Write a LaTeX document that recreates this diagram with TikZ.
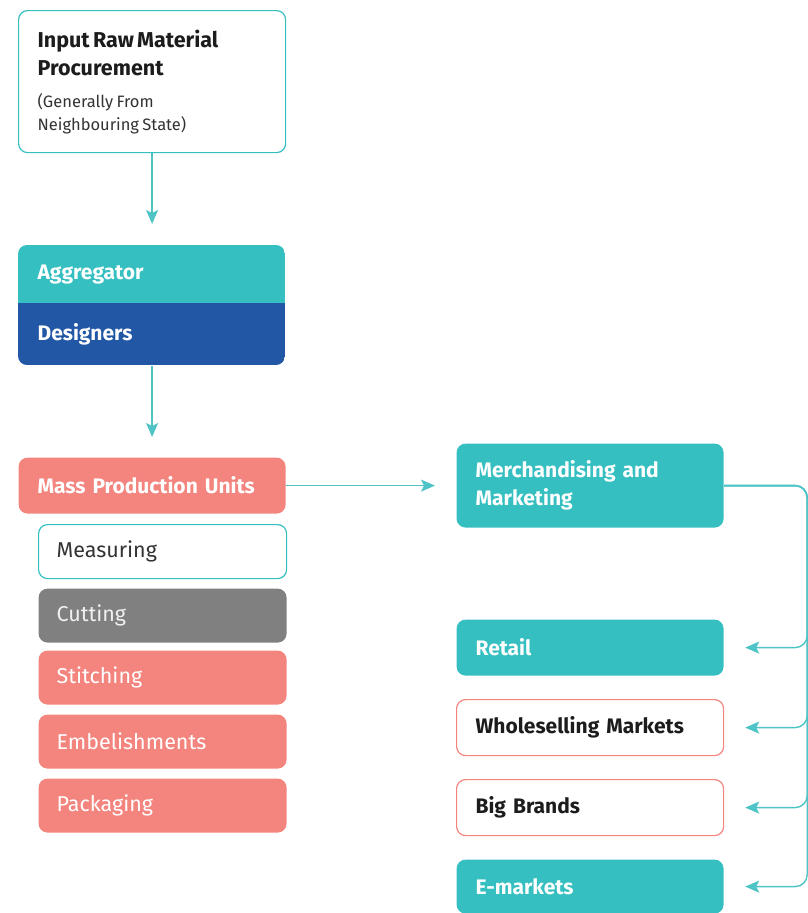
\documentclass[tikz,border=0pt]{standalone}
\usepackage{fontspec}
\setmainfont{Fira Sans}
\usetikzlibrary{arrows.meta}

\definecolor{aggteal}{HTML}{35BFC1}
\definecolor{desblue}{HTML}{2257A5}
\definecolor{salmon}{HTML}{F3847E}
\definecolor{cutgray}{HTML}{808080}
\definecolor{linkteal}{HTML}{4FC4C6}
\definecolor{inkdark}{HTML}{1C1C1C}
\definecolor{inkgray}{HTML}{333333}

\tikzset{
  card/.style={anchor=north west, rounded corners=9pt, minimum width=267pt,
    text width=229pt, inner xsep=19pt, inner ysep=0pt, align=left, line width=1.2pt},
  head/.style={card, font=\bfseries\fontsize{21}{28}\selectfont},
  stage/.style={card, minimum width=248pt, text width=212pt, inner xsep=18pt,
    minimum height=54pt, font=\fontsize{21.5}{24}\selectfont},
  link/.style={draw=linkteal, line width=1.4pt,
    -{Stealth[length=14pt, width=12pt, inset=3pt]}}
}

\begin{document}
\begin{tikzpicture}[x=1pt, y=-1pt]
    \useasboundingbox (0,0) rectangle (808,913);

    % left column
    \node[card, draw=aggteal, fill=white, minimum height=142pt] (input) at (18,10)
      {{\bfseries\color{inkdark}\fontsize{21.5}{28}\selectfont Input Raw Material\\Procurement\par}
       \vspace{9pt}{\color{inkgray}\fontsize{16.5}{23}\selectfont (Generally From\\Neighbouring State)\par}};

    \begin{scope}
      \clip[rounded corners=9pt] (18,245) rectangle (285,365);
      \fill[aggteal] (18,245) rectangle (285,303);
      \fill[desblue] (18,303) rectangle (285,365);
    \end{scope}
    \node[head, text=white, minimum height=58pt] (agg) at (18,245) {Aggregator};
    \node[head, text=white, minimum height=62pt] (des) at (18,303) {Designers};

    \node[head, fill=salmon, text=white, minimum height=56pt] (mpu) at (18,457) {Mass Production Units};

    \node[stage, draw=aggteal, text=inkgray] (measure) at (38,524) {Measuring};
    \node[stage, fill=cutgray, text=gray!12] (cut) at (38,588) {Cutting};
    \node[stage, fill=salmon, text=white] (stitch) at (38,650) {Stitching};
    \node[stage, fill=salmon, text=white] (embel) at (38,714) {Embelishments};
    \node[stage, fill=salmon, text=white] (pack) at (38,778) {Packaging};

    % right column
    \node[head, fill=aggteal, text=white, minimum height=84pt] (merch) at (456,443) {Merchandising and\\Marketing};
    \node[head, fill=aggteal, text=white, minimum height=56pt] (retail) at (456,619) {Retail};
    \node[head, draw=salmon, fill=white, text=inkdark, minimum height=56pt] (whole) at (456,699) {Wholeselling Markets};
    \node[head, draw=salmon, fill=white, text=inkdark, minimum height=56pt] (brands) at (456,779) {Big Brands};
    \node[head, fill=aggteal, text=white, minimum height=54pt] (emkt) at (456,859) {E-markets};

    % connectors
    \draw[link] (input.south) -- ([yshift=21pt]agg.north);
    \draw[link] (des.south) -- ([yshift=20pt]mpu.north);
    \draw[link] (mpu.east) -- ([xshift=-21pt]merch.west);
    \foreach \t in {retail,whole,brands,emkt}
      \draw[link, rounded corners=12pt] (merch.east) -- ++(83,0) |- ([xshift=21pt]\t.east);
\end{tikzpicture}
\end{document}
